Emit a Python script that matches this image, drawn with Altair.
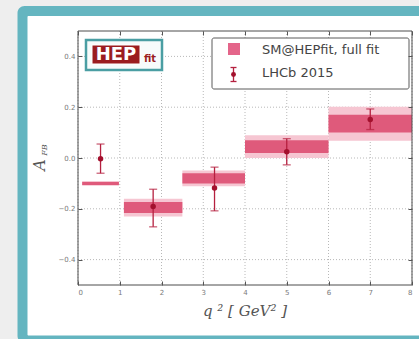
import altair as alt
import pandas as pd

# q^2 bins and the SM@HEPfit full-fit prediction: central value, 1 and 2 sigma half-widths
bin_lo = [0.1, 1.1, 2.5, 4.0, 6.0]
bin_hi = [0.98, 2.5, 4.0, 6.0, 8.0]
fit_center = [-0.100, -0.195, -0.080, 0.045, 0.135]
fit_sig1 = [0.006, 0.022, 0.020, 0.025, 0.035]
fit_sig2 = [0.009, 0.035, 0.031, 0.045, 0.067]

# LHCb 2015 measurement of A_FB with asymmetric errors
lhcb_q2 = [0.54, 1.80, 3.27, 5.00, 7.00]
lhcb_afb = [-0.003, -0.191, -0.118, 0.025, 0.152]
lhcb_up = [0.058, 0.068, 0.082, 0.051, 0.041]
lhcb_dn = [0.057, 0.080, 0.090, 0.052, 0.040]

x_ticks = [0, 1, 2, 3, 4, 5, 6, 7, 8]
y_ticks = [-0.4, -0.2, 0.0, 0.2, 0.4]

W, H = 334, 254
BAND_DARK = "#df5a7b"
BAND_LIGHT = "#f6c6d2"
POINT = "#a3102d"
BAR = "#b5203f"
TEAL = "#64b5c0"
PAGE = "#eeeeee"
GRID = "#b8b8b8"
SPINE = "#4d4d4d"

fit = pd.DataFrame({"lo": bin_lo, "hi": bin_hi, "c": fit_center,
                    "s1": fit_sig1, "s2": fit_sig2})
fit["a1"] = fit["c"] - fit["s1"]
fit["b1"] = fit["c"] + fit["s1"]
fit["a2"] = fit["c"] - fit["s2"]
fit["b2"] = fit["c"] + fit["s2"]

lhcb = pd.DataFrame({"q2": lhcb_q2, "afb": lhcb_afb})
lhcb["lo"] = lhcb["afb"] - pd.Series(lhcb_dn)
lhcb["hi"] = lhcb["afb"] + pd.Series(lhcb_up)

xs = alt.Scale(domain=[0, 8], nice=False, zero=False)
ys = alt.Scale(domain=[-0.5, 0.5], nice=False, zero=False)

tick_style = dict(tickColor="#555555", tickSize=4, tickWidth=1, domain=False,
                  labelFont="DejaVu Sans", labelFontSize=7, labelColor="#7a7a7a",
                  grid=False, title=None, zindex=1)

x_axis = alt.Axis(values=x_ticks, format="d", offset=-4, labelPadding=3, **tick_style)
y_axis = alt.Axis(values=y_ticks, format=".1f", offset=-4, labelPadding=3, **tick_style)

one = pd.DataFrame({"k": [0]})

# teal card with its white face, kept inside the canvas
card = alt.Chart(one).mark_rect(fill=TEAL, cornerRadiusTopLeft=7,
                                cornerRadiusBottomLeft=7).encode(
    x=alt.value(-60.5), x2=alt.value(341), y=alt.value(-25), y2=alt.value(312))
face = alt.Chart(one).mark_rect(fill="#ffffff", cornerRadiusTopLeft=1,
                                cornerRadiusBottomLeft=1).encode(
    x=alt.value(-50.5), x2=alt.value(341), y=alt.value(-15), y2=alt.value(304.5))

# dotted grid at the tick values
grid_x = alt.Chart(pd.DataFrame({"t": x_ticks})).mark_rule(
    color=GRID, strokeDash=[1, 2], strokeWidth=1).encode(
    x=alt.X("t:Q", scale=xs, axis=x_axis))
grid_y = alt.Chart(pd.DataFrame({"t": y_ticks})).mark_rule(
    color=GRID, strokeDash=[1, 2], strokeWidth=1).encode(
    y=alt.Y("t:Q", scale=ys, axis=y_axis))

# prediction bands
band2 = alt.Chart(fit).mark_rect(color=BAND_LIGHT).encode(
    x=alt.X("lo:Q", scale=xs, axis=None), x2="hi",
    y=alt.Y("a2:Q", scale=ys, axis=None), y2="b2")
band1 = alt.Chart(fit).mark_rect(color=BAND_DARK).encode(
    x=alt.X("lo:Q", scale=xs, axis=None), x2="hi",
    y=alt.Y("a1:Q", scale=ys, axis=None), y2="b1")

# plot frame
frame = alt.Chart(one).mark_rect(fillOpacity=0, stroke=SPINE, strokeWidth=1).encode(
    x=alt.value(0), x2=alt.value(W), y=alt.value(0), y2=alt.value(H))

# measurement: error bars with caps and points
bars = alt.Chart(lhcb).mark_rule(color=BAR, strokeWidth=1.3).encode(
    x=alt.X("q2:Q", scale=xs, axis=None),
    y=alt.Y("lo:Q", scale=ys, axis=None), y2="hi")
cap_lo = alt.Chart(lhcb).mark_tick(color=BAR, orient="horizontal", size=8,
                                   thickness=1.3).encode(
    x=alt.X("q2:Q", scale=xs, axis=None), y=alt.Y("lo:Q", scale=ys, axis=None))
cap_hi = alt.Chart(lhcb).mark_tick(color=BAR, orient="horizontal", size=8,
                                   thickness=1.3).encode(
    x=alt.X("q2:Q", scale=xs, axis=None), y=alt.Y("hi:Q", scale=ys, axis=None))
pts = alt.Chart(lhcb).mark_point(filled=True, color=POINT, size=30, opacity=1).encode(
    x=alt.X("q2:Q", scale=xs, axis=None), y=alt.Y("afb:Q", scale=ys, axis=None))

# inward ticks along the top and right edges
mirror = alt.Chart(lhcb).mark_point(opacity=0).encode(
    x=alt.X("q2:Q", scale=xs, axis=alt.Axis(orient="top", values=x_ticks, labels=False,
                                             grid=False, offset=-4, tickColor="#555555",
                                             tickSize=4, domain=False, title=None, zindex=1)),
    y=alt.Y("afb:Q", scale=ys, axis=alt.Axis(orient="right", values=y_ticks, labels=False,
                                              grid=False, offset=-4, tickColor="#555555",
                                              tickSize=4, domain=False, title=None, zindex=1)))

# HEPfit logo
logo_box = alt.Chart(one).mark_rect(fill="#f7fbfb", stroke="#4a9ea3", strokeWidth=2.5).encode(
    x=alt.value(8), x2=alt.value(84), y=alt.value(9), y2=alt.value(39))
logo_red = alt.Chart(one).mark_rect(fill="#9b1c1f", stroke="#ffffff", strokeWidth=1).encode(
    x=alt.value(14), x2=alt.value(62), y=alt.value(14), y2=alt.value(33))
logo_hep = alt.Chart(one).mark_text(text="HEP", font="DejaVu Sans", fontWeight="bold",
                                    fontSize=18, color="#ffffff", align="center",
                                    baseline="middle").encode(
    x=alt.value(38), y=alt.value(24))
logo_fit = alt.Chart(one).mark_text(text="fit", font="DejaVu Sans Condensed", fontWeight="bold",
                                    fontSize=11, color="#9b1c1f", align="center",
                                    baseline="middle").encode(
    x=alt.value(72), y=alt.value(28))

# legend
leg_box = alt.Chart(one).mark_rect(fill="#ffffff", stroke="#5a5a5a", strokeWidth=1,
                                   cornerRadius=2).encode(
    x=alt.value(134), x2=alt.value(331), y=alt.value(7), y2=alt.value(58))
leg_sq = alt.Chart(one).mark_rect(fill="#e4658a").encode(
    x=alt.value(150), x2=alt.value(162), y=alt.value(12), y2=alt.value(24))
leg_bar = alt.Chart(one).mark_rule(color=BAR, strokeWidth=1.3).encode(
    x=alt.value(155.5), y=alt.value(36.5), y2=alt.value(50.5))
leg_cap1 = alt.Chart(one).mark_rule(color=BAR, strokeWidth=1.3).encode(
    x=alt.value(152.5), x2=alt.value(158.5), y=alt.value(36.5))
leg_cap2 = alt.Chart(one).mark_rule(color=BAR, strokeWidth=1.3).encode(
    x=alt.value(152.5), x2=alt.value(158.5), y=alt.value(50.5))
leg_pt = alt.Chart(one).mark_point(filled=True, color=POINT, size=24, opacity=1).encode(
    x=alt.value(155.5), y=alt.value(43.5))
leg_t1 = alt.Chart(one).mark_text(text="SM@HEPfit, full fit", font="DejaVu Sans",
                                  fontSize=13, color="#444444", align="left",
                                  baseline="middle").encode(
    x=alt.value(184), y=alt.value(19))
leg_t2 = alt.Chart(one).mark_text(text="LHCb 2015", font="DejaVu Sans",
                                  fontSize=13, color="#444444", align="left",
                                  baseline="middle").encode(
    x=alt.value(184), y=alt.value(42))

# axis titles
x_title = alt.Chart(one).mark_text(text="q ²  [ GeV²  ]", font="DejaVu Serif",
                                   fontStyle="italic", fontSize=15, color="#555555",
                                   align="center", baseline="middle").encode(
    x=alt.value(167), y=alt.value(280))
y_title_a = alt.Chart(one).mark_text(text="A", font="DejaVu Serif", fontStyle="italic",
                                     fontSize=16, color="#555555", angle=270,
                                     align="center", baseline="middle").encode(
    x=alt.value(-38), y=alt.value(134))
y_title_sub = alt.Chart(one).mark_text(text="FB", font="DejaVu Serif", fontStyle="italic",
                                       fontSize=8, color="#555555", angle=270,
                                       align="center", baseline="middle").encode(
    x=alt.value(-33), y=alt.value(119))

chart = alt.layer(
    card, face, grid_x, grid_y, band2, band1, frame, bars, cap_lo, cap_hi, pts, mirror,
    logo_box, logo_red, logo_hep, logo_fit,
    leg_box, leg_sq, leg_bar, leg_cap1, leg_cap2, leg_pt, leg_t1, leg_t2,
    x_title, y_title_a, y_title_sub,
).resolve_axis(x="independent", y="independent").properties(
    width=W, height=H,
    autosize=alt.AutoSizeParams(type="none"),
    padding={"left": 78, "top": 31, "right": 7, "bottom": 54},
    background=PAGE,
).configure_view(stroke=SPINE, strokeWidth=1)

chart.save("out.html", embed_options={"renderer": "svg", "actions": False})
